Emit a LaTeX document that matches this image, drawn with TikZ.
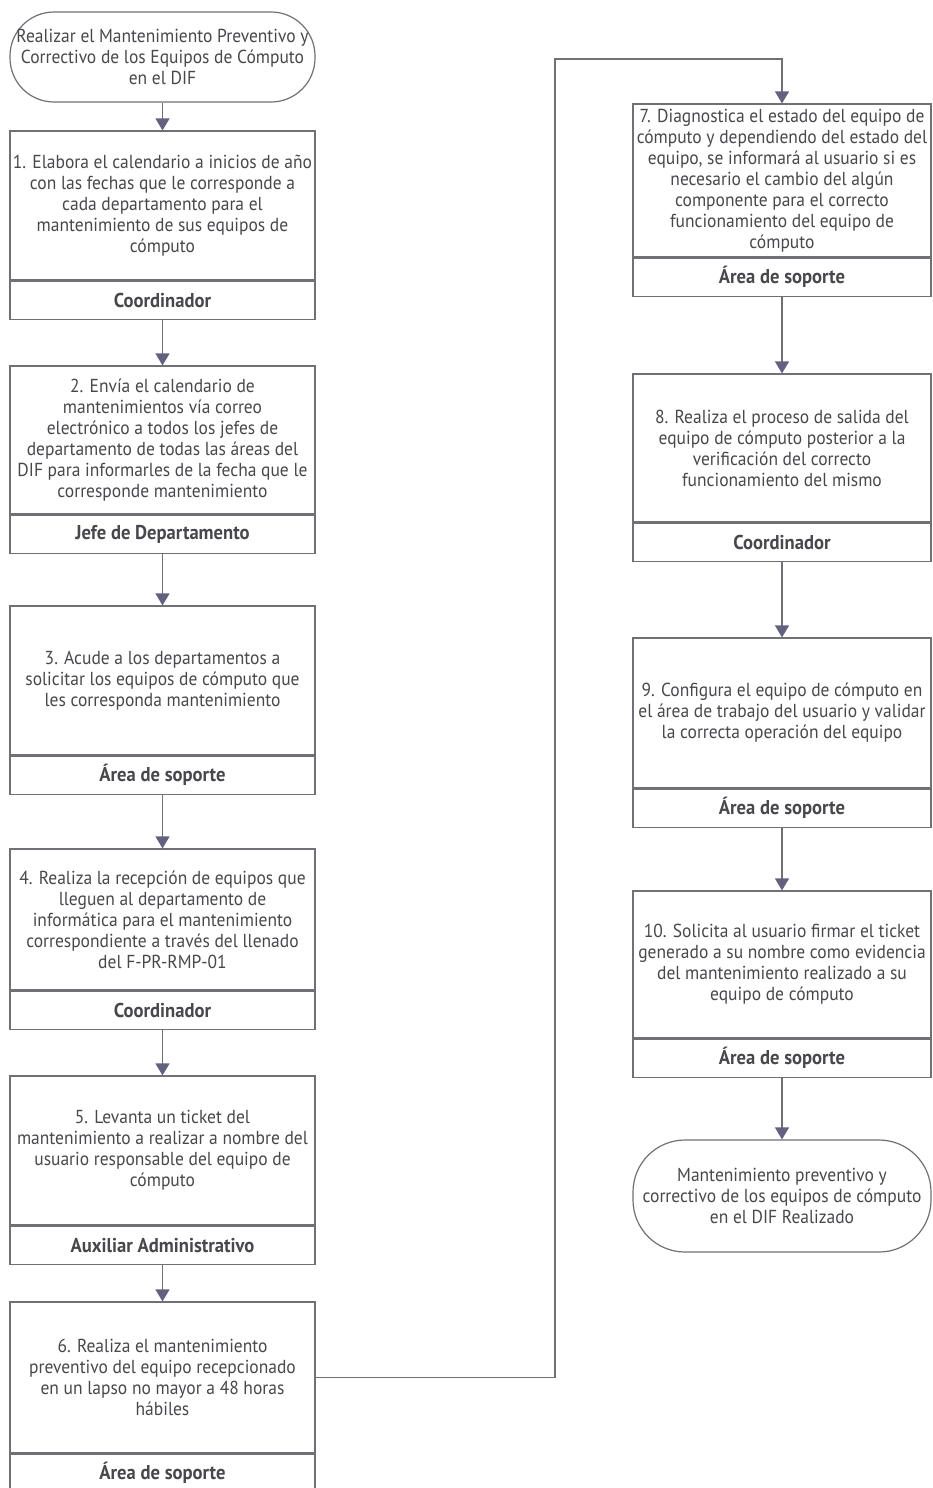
\documentclass[tikz,border=0pt]{standalone}
\usepackage{fontspec}
\setmainfont{PT Sans}[FakeStretch=0.93]
\usepackage{tikz}
\usetikzlibrary{positioning,arrows.meta}
\definecolor{difgris}{RGB}{112,112,118}
\definecolor{difflecha}{RGB}{98,98,128}
\definecolor{diftexto}{RGB}{72,72,76}

\begin{document}
\begin{tikzpicture}[x=0.5pt,y=-0.5pt,
    paso/.style={draw=difgris,line width=0.6pt,minimum width=152.5pt,align=center,
                 text=diftexto,font=\fontsize{9.4}{10.5}\selectfont,inner sep=1pt},
    rol/.style={draw=difgris,line width=0.6pt,minimum width=152.5pt,minimum height=19pt,
                text=diftexto,font=\fontsize{10}{11}\selectfont\bfseries,inner sep=1pt},
    term/.style={draw=difgris,line width=0.6pt,rounded corners=22pt,align=center,
                 text=diftexto,font=\fontsize{9.4}{10.5}\selectfont,inner sep=1pt},
    flecha/.style={draw=difgris,line width=0.6pt,
                   -{Triangle[width=7pt,length=6pt,color=difflecha]}}]
  \useasboundingbox (0,0) rectangle (932,1488);

  % columna izquierda
  \node[term,minimum width=152.5pt,minimum height=45pt] (inicio) at (162.5,57)
    {Realizar el Mantenimiento Preventivo y\\Correctivo de los Equipos de Cómputo\\en el DIF};
  \node[paso,minimum height=74.5pt] (b1) at (162.5,205.5)
    {1. Elabora el calendario a inicios de año\\con las fechas que le corresponde a\\cada departamento para el\\mantenimiento de sus equipos de\\cómputo};
  \node[rol,below=0pt of b1] (r1) {Coordinador};
  \node[paso,minimum height=74pt] (b2) at (162.5,440)
    {2. Envía el calendario de\\mantenimientos vía correo\\electrónico a todos los jefes de\\departamento de todas las áreas del\\DIF para informarles de la fecha que le\\corresponde mantenimiento};
  \node[rol,below=0pt of b2] (r2) {Jefe de Departamento};
  \node[paso,minimum height=74.5pt] (b3) at (162.5,680.5)
    {3. Acude a los departamentos a\\solicitar los equipos de cómputo que\\les corresponda mantenimiento};
  \node[rol,below=0pt of b3] (r3) {Área de soporte};
  \node[paso,minimum height=70.5pt] (b4) at (162.5,919.5)
    {4. Realiza la recepción de equipos que\\lleguen al departamento de\\informática para el mantenimiento\\correspondiente a través del llenado\\del F-PR-RMP-01};
  \node[rol,below=0pt of b4] (r4) {Coordinador};
  \node[paso,minimum height=74.5pt] (b5) at (162.5,1150.5)
    {5. Levanta un ticket del\\mantenimiento a realizar a nombre del\\usuario responsable del equipo de\\cómputo};
  \node[rol,below=0pt of b5] (r5) {Auxiliar Administrativo};
  \node[paso,minimum height=75.5pt] (b6) at (162.5,1377.5)
    {6. Realiza el mantenimiento\\preventivo del equipo recepcionado\\en un lapso no mayor a 48 horas\\hábiles};
  \node[rol,below=0pt of b6] (r6) {Área de soporte};

  % columna derecha
  \node[paso,minimum width=149pt,minimum height=76.5pt] (b7) at (782,180.5)
    {7. Diagnostica el estado del equipo de\\cómputo y dependiendo del estado del\\equipo, se informará al usuario si es\\necesario el cambio del algún\\componente para el correcto\\funcionamiento del equipo de\\cómputo};
  \node[rol,minimum width=149pt,below=0pt of b7] (r7) {Área de soporte};
  \node[paso,minimum width=149pt,minimum height=74pt] (b8) at (782,448)
    {8. Realiza el proceso de salida del\\equipo de cómputo posterior a la\\verificación del correcto\\funcionamiento del mismo};
  \node[rol,minimum width=149pt,below=0pt of b8] (r8) {Coordinador};
  \node[paso,minimum width=149pt,minimum height=75pt] (b9) at (782,713)
    {9. Configura el equipo de cómputo en\\el área de trabajo del usuario y validar\\la correcta operación del equipo};
  \node[rol,minimum width=149pt,below=0pt of b9] (r9) {Área de soporte};
  \node[paso,minimum width=149pt,minimum height=73.5pt] (b10) at (782,964.5)
    {10. Solicita al usuario firmar el ticket\\generado a su nombre como evidencia\\del mantenimiento realizado a su\\equipo de cómputo};
  \node[rol,minimum width=149pt,below=0pt of b10] (r10) {Área de soporte};
  \node[term,minimum width=149pt,minimum height=56pt,rounded corners=26pt] (fin) at (782,1196)
    {Mantenimiento preventivo y\\correctivo de los equipos de cómputo\\en el DIF Realizado};

  \coordinate (giro) at (555,59);

  \draw[flecha] (inicio) -- (b1);
  \draw[flecha] (r1) -- (b2);
  \draw[flecha] (r2) -- (b3);
  \draw[flecha] (r3) -- (b4);
  \draw[flecha] (r4) -- (b5);
  \draw[flecha] (r5) -- (b6);
  \draw[flecha] (b6.east) -- (b6.east -| giro) |- (b7.north |- giro) -- (b7.north);
  \draw[flecha] (r7) -- (b8);
  \draw[flecha] (r8) -- (b9);
  \draw[flecha] (r9) -- (b10);
  \draw[flecha] (r10) -- (fin);
\end{tikzpicture}
\end{document}
